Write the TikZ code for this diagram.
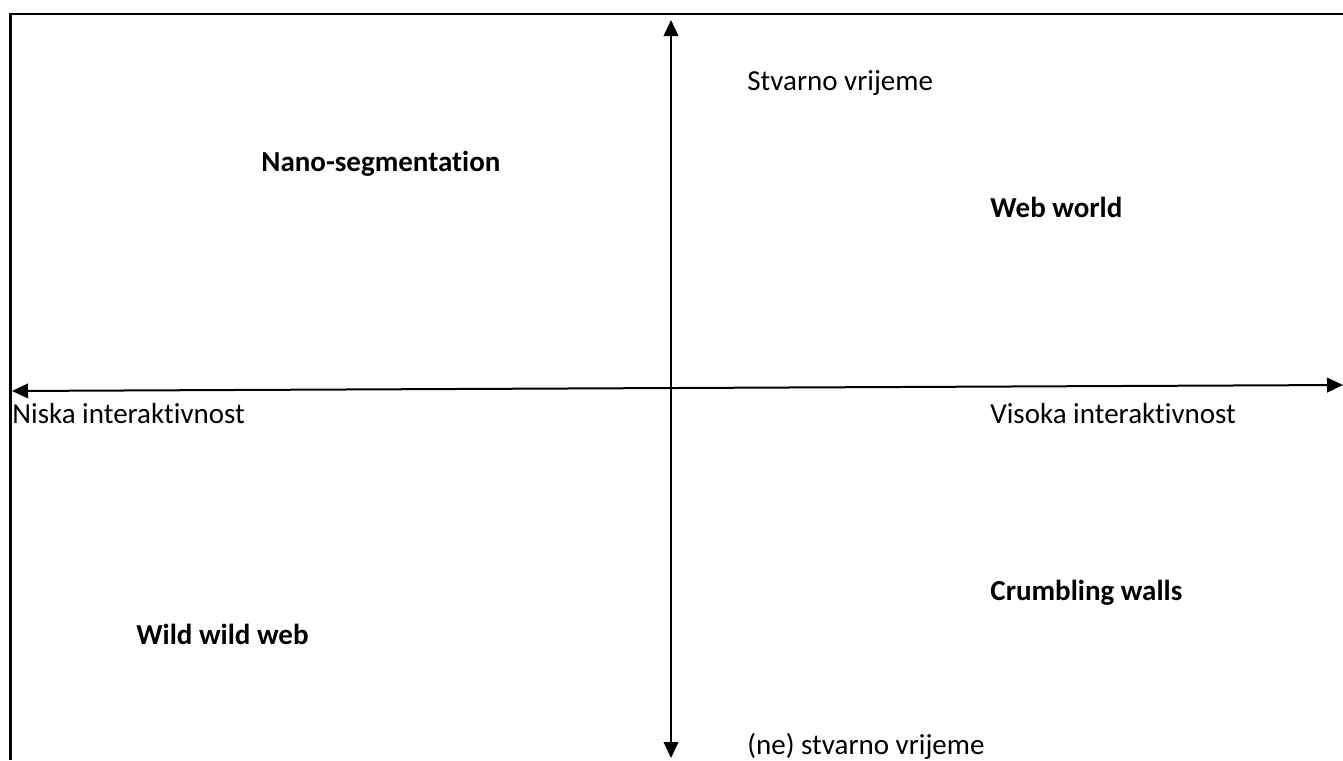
\documentclass[tikz,border=0pt]{standalone}
\usepackage{fontspec}
\setmainfont{Carlito}[Ligatures=NoCommon]
\usetikzlibrary{arrows.meta}
\begin{document}
\begin{tikzpicture}[x=0.5pt,y=-0.5pt,
  axis/.style={line width=1pt,{Triangle[width=7.3pt,length=8pt]}-{Triangle[width=7.3pt,length=8pt]}},
  lbl/.style={anchor=west,inner sep=0pt,font=\fontsize{14.5pt}{17pt}\selectfont},
  blbl/.style={lbl,font=\fontsize{14.5pt}{17pt}\selectfont\bfseries}]
\useasboundingbox (0,0) rectangle (1343,760);
% frame
\coordinate (ftl) at (10,14);
\coordinate (ftr) at (1343,14);
\coordinate (fbl) at (10,760);
\draw[line width=1pt] (9,14) -- (ftr);
\draw[line width=1.5pt] (ftl) -- (fbl);
% axes
\coordinate (top) at (671,20);
\coordinate (bot) at (671,758);
\coordinate (lft) at (12,391);
\coordinate (rgt) at (1343,385);
\draw[axis] (bot) -- (top);
\draw[axis] (lft) -- (rgt);
% labels
\node[lbl] (sv) at (747,83) {Stvarno vrijeme};
\node[blbl] (ns) at (261,164) {Nano-segmentation};
\node[blbl] (ww) at (990,207) {Web world};
\node[lbl] (ni) at (12,414) {Niska interaktivnost};
\node[lbl] (vi) at (990,414) {Visoka interaktivnost};
\node[blbl] (cw) at (990,593) {Crumbling walls};
\node[blbl] (www) at (136,634) {Wild wild web};
\node[lbl] (nsv) at (747,746) {(ne) stvarno vrijeme};
\end{tikzpicture}
\end{document}
